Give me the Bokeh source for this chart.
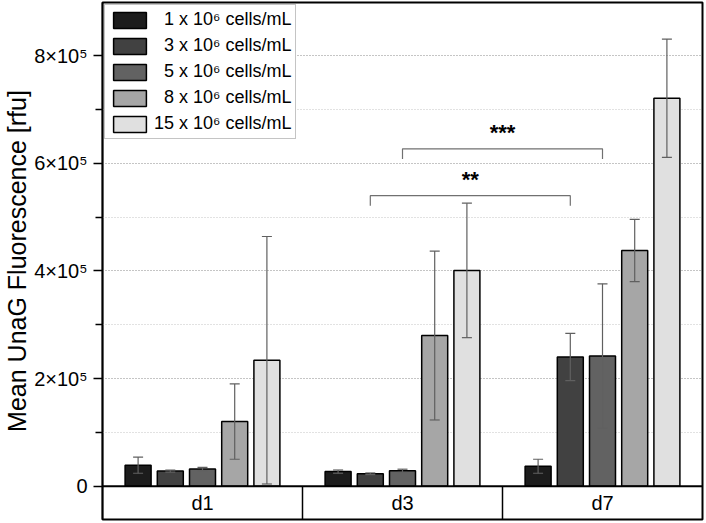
from bokeh.plotting import figure
from bokeh.models import Range1d, FixedTicker, Legend, LegendItem
from bokeh.core.properties import value
from bokeh.embed import file_html
from bokeh.resources import INLINE

# ---- data ----
days = ["d1", "d3", "d7"]
densities = ["1", "3", "5", "8", "15"]
legend_labels = ["\u20071 x 10\u2076 cells/mL", "\u20073 x 10\u2076 cells/mL",
                 "\u20075 x 10\u2076 cells/mL", "\u20078 x 10\u2076 cells/mL",
                 "15 x 10\u2076 cells/mL"]
colors = ["#1c1c1c", "#414141", "#626262", "#a6a6a6", "#e0e0e0"]

mean_1 = [39000, 27000, 37000]
mean_3 = [28000, 23000, 240000]
mean_5 = [32000, 28500, 242000]
mean_8 = [120000, 280000, 438000]
mean_15 = [234000, 401000, 721000]

err_1 = [15000, 3000, 13000]
err_3 = [2000, 1500, 44000]
err_5 = [3000, 3000, 134000]
err_8 = [70000, 157000, 58000]
err_15 = [230000, 125000, 110000]

means = [mean_1, mean_3, mean_5, mean_8, mean_15]
errs = [err_1, err_3, err_5, err_8, err_15]

major_ticks = [0, 200000, 400000, 600000, 800000]
minor_ticks = [100000, 300000, 500000, 700000]

y_label = "Mean UnaG Fluorescence [rfu]"

# significance brackets: (density index, day index start, day index end, label, height)
sig_density = [1, 2]
sig_from_day = [1, 1]
sig_to_day = [2, 2]
sig_labels = ["**", "***"]
sig_heights = [540000, 627000]

# ---- layout parameters ----
pitch = 0.161
bar_w = 0.13
cap_w = 0.05
y_min = -62000
y_max = 899000

p = figure(width=704, height=521, output_backend="svg", toolbar_location=None,
           x_range=Range1d(-0.5, len(days) - 0.5), y_range=Range1d(y_min, y_max),
           x_axis_type=None, min_border_left=93, min_border_right=2,
           min_border_top=2, min_border_bottom=2)
p.outline_line_color = "black"
p.outline_line_width = 2
p.background_fill_color = "white"
p.border_fill_color = "white"
p.xgrid.visible = False

p.ygrid.ticker = FixedTicker(ticks=major_ticks, minor_ticks=minor_ticks)
p.ygrid.grid_line_color = "#8a8a8a"
p.ygrid.grid_line_dash = "1 2"
p.ygrid.grid_line_width = 1
p.ygrid.minor_grid_line_color = "#c4c4c4"
p.ygrid.minor_grid_line_dash = "1 2"

ax = p.yaxis[0]
ax.ticker = FixedTicker(ticks=major_ticks, minor_ticks=minor_ticks)
ax.major_label_overrides = {t: ("0" if t == 0 else f"{t/1e5:g}\u00d710\u2075") for t in major_ticks}
ax.major_label_text_font = "Liberation Sans"
ax.major_label_text_font_size = "20px"
ax.major_label_text_color = "black"
ax.major_tick_out = 9
ax.major_tick_in = 0
ax.minor_tick_out = 7
ax.minor_tick_in = 0
ax.major_label_standoff = 6
ax.axis_line_width = 1.5
ax.major_tick_line_width = 1.5
ax.minor_tick_line_width = 1.5
ax.axis_label = y_label
ax.axis_label_text_font = "Liberation Sans"
ax.axis_label_text_font_size = "25px"
ax.axis_label_text_font_style = "normal"
ax.axis_label_text_color = "black"
ax.axis_label_standoff = 0

items = []
for j, (m, e) in enumerate(zip(means, errs)):
    xs = [i + (j - 2) * pitch for i in range(len(days))]
    r = p.vbar(x=xs, top=m, bottom=0, width=bar_w, fill_color=colors[j],
               line_color="black", line_width=1.5)
    items.append(LegendItem(label=legend_labels[j], renderers=[r]))
    lo = [a - b for a, b in zip(m, e)]
    hi = [a + b for a, b in zip(m, e)]
    p.segment(x0=xs, y0=lo, x1=xs, y1=hi, line_color="#606060", line_width=1.2)
    p.segment(x0=[x - cap_w / 2 for x in xs], y0=hi, x1=[x + cap_w / 2 for x in xs], y1=hi,
              line_color="#606060", line_width=1.2)
    p.segment(x0=[x - cap_w / 2 for x in xs], y0=lo, x1=[x + cap_w / 2 for x in xs], y1=lo,
              line_color="#606060", line_width=1.2)

# significance brackets
leg = 19000
for d, a, b, lab, h in zip(sig_density, sig_from_day, sig_to_day, sig_labels, sig_heights):
    xa = a + (d - 2) * pitch
    xb = b + (d - 2) * pitch
    p.line(x=[xa, xa, xb, xb], y=[h - leg, h, h, h - leg], line_color="#707070", line_width=1.2)
    p.text(x=[(xa + xb) / 2], y=[h + 30000], text=[lab], text_align="center",
           text_baseline="middle", text_font=value("Liberation Sans"),
           text_font_size="22px", text_font_style="bold", text_color="black")

# category band below zero
p.line(x=[-0.5, len(days) - 0.5], y=[0, 0], line_color="black", line_width=2)
p.segment(x0=[i + 0.5 for i in range(len(days) - 1)], y0=y_min,
          x1=[i + 0.5 for i in range(len(days) - 1)], y1=0, line_color="black", line_width=1.5)
p.text(x=list(range(len(days))), y=[y_min / 2] * len(days), text=days,
       text_align="center", text_baseline="middle", text_font=value("Liberation Sans"),
       text_font_size="20px", text_color="black")

legend = Legend(items=items, location="top_left", margin=2, padding=4, spacing=5,
                glyph_width=41, glyph_height=20, label_height=20, label_standoff=4,
                label_text_font="Liberation Sans", label_text_font_size="18px",
                label_text_color="black", border_line_color="#8a8a8a",
                border_line_width=1.5, background_fill_color="white",
                background_fill_alpha=1.0)
p.add_layout(legend)

open("out.html", "w").write(file_html(p, INLINE))
